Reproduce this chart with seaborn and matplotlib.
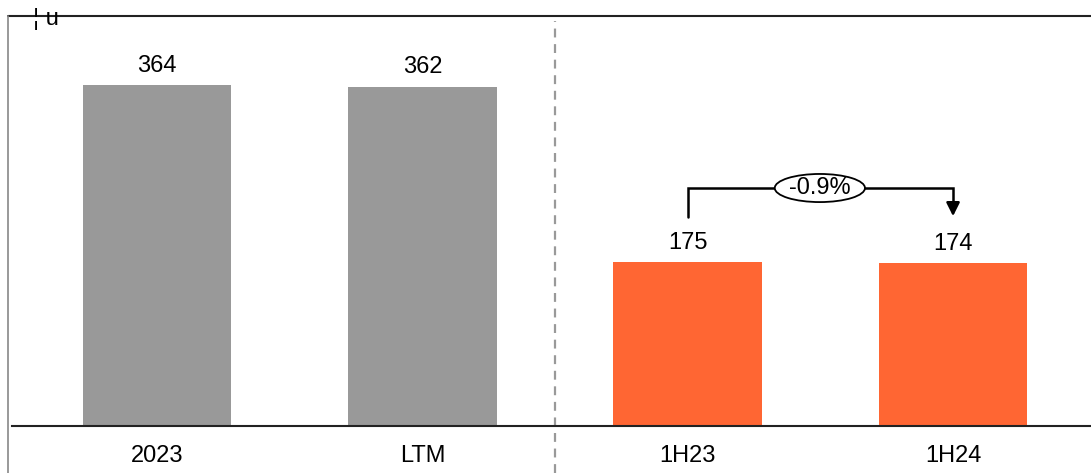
"""
Bar chart: 2023 / LTM vs 1H23 / 1H24, with growth bracket.
"""

import matplotlib
matplotlib.use("Agg")
import matplotlib.pyplot as plt
from matplotlib.patches import Ellipse
import pandas as pd
import seaborn as sns

# DATA

categories = ["2023", "LTM", "1H23", "1H24"]
values = [364, 362, 175, 174]
bar_colors = ["#999999", "#999999", "#FF6633", "#FF6633"]
change_label = "-0.9%"
unit_label = "¦ u"

# FIGURE

W, H = 1091, 473
DPI = 100
FS = 17

sns.set_style("white")
plt.rcParams["font.family"] = ["Liberation Sans", "DejaVu Sans"]

fig = plt.figure(figsize=(W / DPI, H / DPI), dpi=DPI)

# axes box in pixels: left 12, right 1091, baseline y=426, top y=16
ax_left, ax_right, ax_base, ax_top = 12, 1091, 426, 16
ax = fig.add_axes([
    ax_left / W,
    (H - ax_base) / H,
    (ax_right - ax_left) / W,
    (ax_base - ax_top) / H,
])

df = pd.DataFrame({"cat": categories, "val": values})
sns.barplot(
    data=df, x="cat", y="val", hue="cat",
    palette=bar_colors, width=0.56, legend=False, ax=ax,
    saturation=1, linewidth=0,
)

ax.set_xlim(-0.547, 3.52)
ax.set_ylim(0, 437.6)
ax.set_xlabel("")
ax.set_ylabel("")
ax.set_yticks([])
ax.tick_params(axis="x", length=0, labelsize=FS, pad=14, labelcolor="black")
for s in ["top", "right", "left"]:
    ax.spines[s].set_visible(False)
ax.spines["bottom"].set_color("#222222")
ax.spines["bottom"].set_linewidth(1.5)

# valores sobre barras
for i, v in enumerate(values):
    ax.text(i, v + 9, f"{v}", ha="center", va="bottom", fontsize=FS,
            color="black")

# separador discontinuo
ax.plot([1.5, 1.5], [-50, 432], ls=(0, (4, 3)), color="#999999",
        lw=1.6, clip_on=False)

# bracket de variacion
y_top = 254
ax.plot([2, 2, 3, 3], [223, y_top, y_top, 232], color="black", lw=1.8,
        solid_joinstyle="miter")
ax.annotate("", xy=(3, 221), xytext=(3, 236),
            arrowprops=dict(arrowstyle="-|>", color="black", lw=1.8,
                            mutation_scale=20))
ell = Ellipse((2.498, y_top), width=0.34, height=30, facecolor="white",
              edgecolor="black", lw=1.3, zorder=5)
ax.add_patch(ell)
ax.text(2.498, y_top, change_label, ha="center", va="center", fontsize=FS,
        color="black", zorder=6)

# marco de la figura
fig.add_artist(plt.Line2D([8 / W, 1], [1 - 16 / H, 1 - 16 / H],
                          color="#222222", lw=1.5))
fig.add_artist(plt.Line2D([8 / W, 8 / W], [0, 1 - 16 / H],
                          color="#888888", lw=1.2))
fig.text(33 / W, 1 - 19 / H, unit_label, fontsize=FS, ha="left", va="center",
         color="black")

fig.savefig("out.png", dpi=DPI)
